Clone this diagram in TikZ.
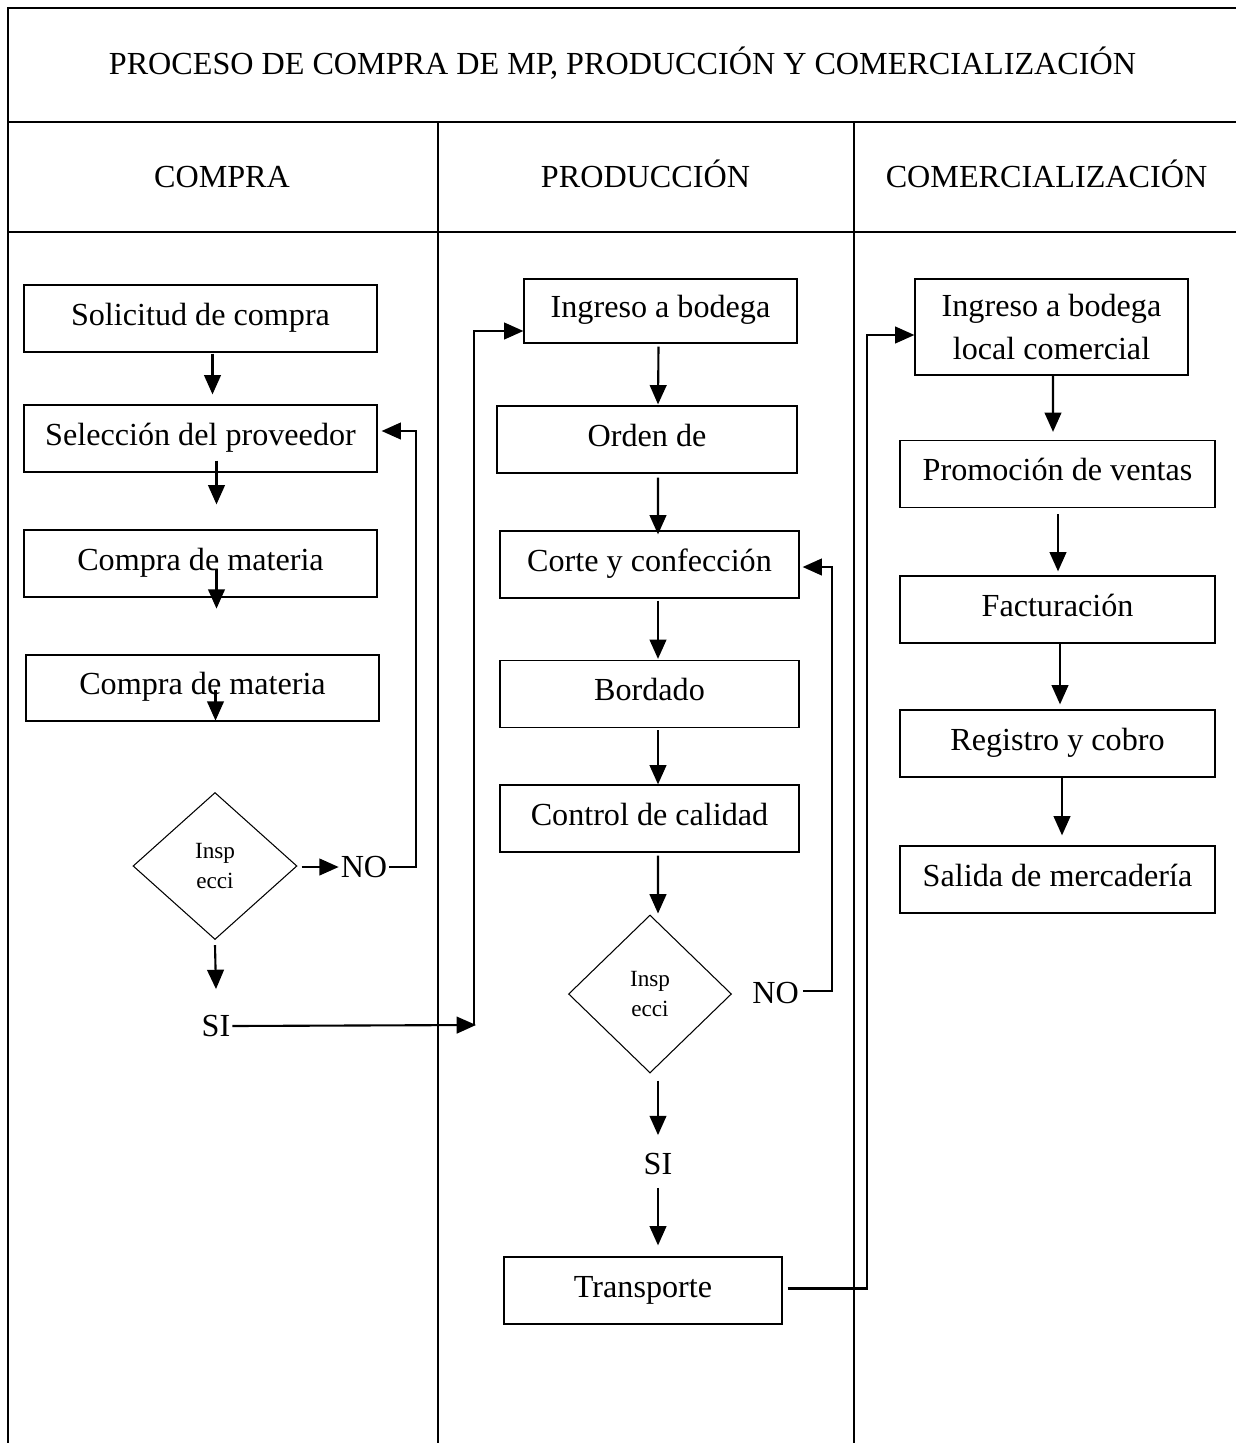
\documentclass[tikz,border=0pt]{standalone}
\usepackage{fontspec}
\setmainfont{Liberation Serif}
\usetikzlibrary{arrows.meta,calc,shapes.geometric}

\begin{document}
\begin{tikzpicture}[x=0.02cm,y=-0.02cm,
    font=\fontsize{18.3}{22}\selectfont,
    marco/.style={line width=1.5pt},
    caja/.style={draw,line width=0.7pt,inner sep=0pt},
    paso/.style={caja,text height=12.5pt,text depth=5pt,minimum height=1.34cm},
    rombo/.style={draw,diamond,line width=0.6pt,inner sep=0pt,align=center,font=\fontsize{13.2}{17.5}\selectfont},
    rotulo/.style={inner sep=1pt},
    flecha/.style={line width=1.2pt,-{Triangle[length=11pt,width=9.5pt]}}]
  \useasboundingbox (0,0) rectangle (1236,1443);

  % marco de la tabla
  \draw[marco] (8,1443) -- (8,8) -- (1260,8);
  \draw[marco] (8,122) -- (1260,122);
  \draw[marco] (8,232) -- (1260,232);
  \foreach \x in {438,854} \draw[marco] (\x,122) -- (\x,1443);

  \node[anchor=base] (titulo) at (622.5,75) {PROCESO DE COMPRA DE MP, PRODUCCIÓN Y COMERCIALIZACIÓN};
  \node[anchor=base] (hcompra) at (222,187) {COMPRA};
  \node[anchor=base] (hprod) at (645.5,187) {PRODUCCIÓN};
  \node[anchor=base] (hcom) at (1046.5,187) {COMERCIALIZACIÓN};

  % columna compra
  \node[paso,minimum width=7.06cm] (sol) at (200.5,318.5) {Solicitud de compra};
  \node[paso,minimum width=7.06cm] (sel) at (200.5,438.5) {Selección del proveedor};
  \node[paso,minimum width=7.06cm] (mat1) at (200.5,563.5) {Compra de materia};
  \node[paso,minimum width=7.06cm,minimum height=1.32cm] (mat2) at (202.5,688) {Compra de materia};
  \node[rombo,minimum width=3.28cm,minimum height=2.94cm] (ins1) at (215,866) {Insp\\ecci};
  \node[rotulo] (no1) at (364,867) {NO};
  \node[rotulo] (si1) at (216,1026) {SI};

  % columna produccion
  \node[paso,minimum width=5.46cm,minimum height=1.28cm] (ing) at (660.5,311) {Ingreso a bodega};
  \node[paso,minimum width=6cm] (ord) at (647,439.5) {Orden de};
  \foreach \nom/\y/\txt in {cor/564.5/Corte y confección, bor/694/Bordado, ctl/818.5/Control de calidad}
    \node[paso,minimum width=5.98cm] (\nom) at (649.5,\y) {\txt};
  \node[rombo,minimum width=3.26cm,minimum height=3.16cm] (ins2) at (650,994) {Insp\\ecci};
  \node[rotulo] (no2) at (775.5,993) {NO};
  \node[rotulo] (si2) at (658,1164) {SI};
  \node[paso,minimum width=5.56cm] (tra) at (643,1290.5) {Transporte};

  % columna comercializacion
  \node[caja,minimum width=5.46cm,minimum height=1.92cm,align=center,font=\fontsize{18.3}{24}\selectfont] (loc) at (1051.5,327) {Ingreso a bodega\\local comercial};
  \foreach \nom/\y/\txt in {pro/474/Promoción de ventas, fac/609.5/Facturación, reg/743.5/Registro y cobro, sal/879.5/Salida de mercadería}
    \node[paso,minimum width=6.3cm] (\nom) at (1057.5,\y) {\txt};

  % flechas compra
  \draw[flecha] ($(sol.south)+(12,1)$) -- ($(sel.north)+(12,-10)$);
  \draw[flecha] ($(sel.south)+(16,-12)$) -- ($(mat1.north)+(16,-25)$);
  \draw[flecha] ($(mat1.center)+(16,5)$) -- ($(mat1.south)+(16,11)$);
  \draw[flecha] ($(mat2.center)+(13,2)$) -- ($(mat2.south)+(13,-1)$);
  \draw[flecha] ($(ins1.east)+(4,1)$) -- (no1.west);
  \coordinate (ret1) at (416,431);
  \draw[flecha] (no1.east) -| (ret1) -- ($(ret1 -| sel.east)+(4,0)$);
  \draw[flecha] ($(ins1.south)+(0,5)$) -- ($(si1.north)+(0,-24)$);
  \coordinate (cruce1) at (476,1025);
  \draw[flecha] (si1.east) -- (cruce1);
  \draw[flecha] ($(cruce1)+(-2,0)$) |- ($(ing.west)+(0,20)$);

  % flechas produccion
  \draw[flecha] ($(ing.south)+(-2,3)$) -- ($(ord.north)+(11,-1)$);
  \draw[flecha] ($(ord.south)+(11,4)$) -- ($(cor.north)+(8.5,4)$);
  \draw[flecha] ($(cor.south)+(8.5,2)$) -- ($(bor.north)+(8.5,-1)$);
  \draw[flecha] ($(bor.south)+(8.5,2)$) -- ($(ctl.north)+(8.5,0)$);
  \draw[flecha] ($(ctl.south)+(8.5,3)$) -- ($(ins2.north)+(8,-1)$);
  \coordinate (ret2) at (832,567);
  \draw[flecha] ($(no2.east)+(2,-2)$) -| (ret2) -- ($(ret2 -| cor.east)+(3,0)$);
  \draw[flecha] ($(ins2.south)+(8,7)$) -- ($(si2.north)+(0,-16)$);
  \draw[flecha] ($(si2.south)+(0,11)$) -- ($(tra.north)+(15,-11)$);
  \draw[flecha] ($(tra.east)+(5,-2)$) -| ($(loc.west)+(-47,8)$) -- ($(loc.west)+(0,8)$);

  % flechas comercializacion
  \draw[flecha] ($(loc.south)+(1.5,0)$) -- ($(pro.north)+(-4.5,-8)$);
  \draw[flecha] ($(pro.south)+(0.5,6)$) -- ($(fac.north)+(0.5,-4)$);
  \draw[flecha] ($(fac.south)+(2.5,0)$) -- ($(reg.north)+(2.5,-5)$);
  \draw[flecha] ($(reg.south)+(4.5,0)$) -- ($(sal.north)+(4.5,-10)$);
\end{tikzpicture}
\end{document}
